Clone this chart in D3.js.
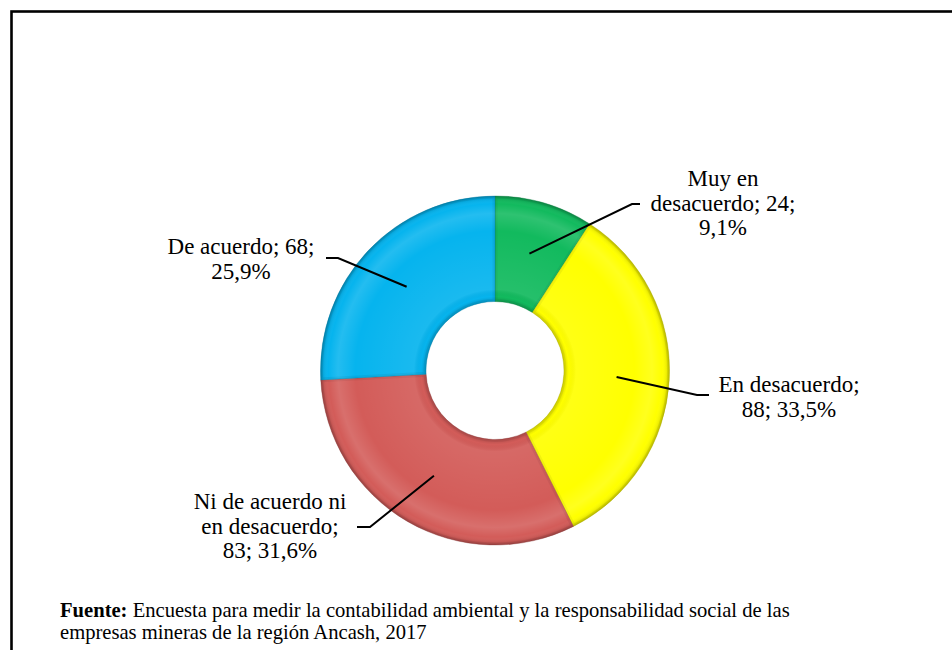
<!DOCTYPE html>
<html><head><meta charset="utf-8">
<script src="https://cdn.jsdelivr.net/npm/d3@7"></script>
<style>body{margin:0;background:#fff}svg{display:block}</style>
</head><body>
<svg id="c" width="952" height="650"></svg>
<script>
// ---- data ----
const categories = ["Muy en desacuerdo", "En desacuerdo", "Ni de acuerdo ni en desacuerdo", "De acuerdo"];
const counts = [24, 88, 83, 68];
const percents = ["9,1%", "33,5%", "31,6%", "25,9%"];
const colors = ["#12BA5E", "#FFFF00", "#D35C59", "#06B4EE"];
const labelLines = [
  ["Muy en", "desacuerdo; 24;", "9,1%"],
  ["En desacuerdo;", "88; 33,5%"],
  ["Ni de acuerdo ni", "en desacuerdo;", "83; 31,6%"],
  ["De acuerdo; 68;", "25,9%"]
];
const sourceBold = "Fuente:";
const sourceText = [" Encuesta para medir la contabilidad ambiental y la responsabilidad social de las",
                    "empresas mineras de la región Ancash, 2017"];

// ---- layout ----
const cx = 495, cy = 370.5, rOuter = 174.5, rInner = 69;
const labelPos = [
  {x: 723, y: 186, elbow: [632, 204], end: [640, 204]},
  {x: 789, y: 392, elbow: [697, 395], end: [709, 395]},
  {x: 270, y: 509, elbow: [370, 527], end: [357, 527]},
  {x: 241, y: 254, elbow: [338, 258], end: [326, 258]}
];
const lineH = 24.5;
const serif = "'Liberation Serif','Times New Roman',serif";

const svg = d3.select("#c");
const defs = svg.append("defs");

// frame
svg.append("rect").attr("x", 11.5).attr("y", 11.5).attr("width", 960).attr("height", 700)
  .attr("fill", "none").attr("stroke", "#000").attr("stroke-width", 2.6);

// bevel-ish radial overlay (in the translated group's coordinates)
const rg = defs.append("radialGradient").attr("id", "bev").attr("gradientUnits", "userSpaceOnUse")
  .attr("cx", 0).attr("cy", 0).attr("r", rOuter);
[[rInner/rOuter, "#000", 0.15], [(rInner+5)/rOuter, "#000", 0.0], [(rInner+12)/rOuter, "#fff", 0.08],
 [0.80, "#fff", 0.0], [0.90, "#fff", 0.12], [0.955, "#fff", 0.0], [0.985, "#000", 0.08], [1, "#000", 0.25]]
 .forEach(s => rg.append("stop").attr("offset", s[0]).attr("stop-color", s[1]).attr("stop-opacity", s[2]));

const pie = d3.pie().sort(null).value(d => d)(counts);
const arc = d3.arc().innerRadius(rInner).outerRadius(rOuter);

const g = svg.append("g").attr("transform", `translate(${cx},${cy})`);
pie.forEach((p, i) => {
  const cid = "clip" + i;
  defs.append("clipPath").attr("id", cid).append("path").attr("d", arc(p));
  g.append("path").attr("d", arc(p)).attr("fill", colors[i]);
  // soft edge shading inside each slice
  g.append("path").attr("d", arc(p))
    .attr("fill", "none").attr("stroke", d3.color(colors[i]).darker(0.8)).attr("stroke-opacity", 0.22)
    .attr("stroke-width", 5).attr("clip-path", `url(#${cid})`);
  g.append("path").attr("d", arc(p)).attr("fill", "url(#bev)");
  g.append("path").attr("d", arc(p))
    .attr("fill", "none").attr("stroke", d3.color(colors[i]).darker(1.2)).attr("stroke-opacity", 0.45).attr("stroke-width", 0.8);
});

// leader lines & labels
pie.forEach((p, i) => {
  const c = arc.centroid(p);
  const start = [cx + c[0], cy + c[1]];
  const L = labelPos[i];
  svg.append("path").attr("d", d3.line()([start, L.elbow, L.end]))
    .attr("fill", "none").attr("stroke", "#000").attr("stroke-width", 2);
  const t = svg.append("text").attr("x", L.x).attr("y", L.y).attr("text-anchor", "middle")
    .attr("font-family", serif).attr("font-size", 23).attr("fill", "#000");
  labelLines[i].forEach((ln, k) => t.append("tspan").attr("x", L.x).attr("y", L.y + k * lineH).text(ln));
});

// source note
const s1 = svg.append("text").attr("x", 60).attr("y", 617)
  .attr("font-family", serif).attr("font-size", 20.6).attr("fill", "#000");
s1.append("tspan").attr("font-weight", "bold").text(sourceBold);
s1.append("tspan").text(sourceText[0]);
svg.append("text").attr("x", 60).attr("y", 639)
  .attr("font-family", serif).attr("font-size", 20.6).attr("fill", "#000")
  .text(sourceText[1]);
</script>
</body></html>
